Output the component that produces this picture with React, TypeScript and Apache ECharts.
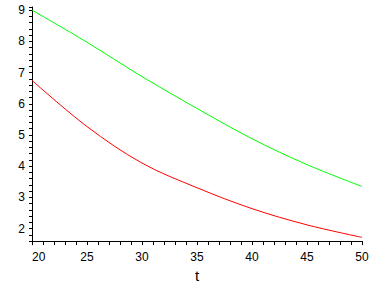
import React, { useEffect, useRef } from "react";
import * as echarts from "echarts";

const tValues = [20, 25, 30, 35, 40, 45, 50];
const greenValues = [9.0, 7.97, 6.87, 5.85, 4.88, 4.05, 3.35];
const redValues = [6.75, 5.27, 4.1, 3.31, 2.64, 2.12, 1.72];
const xTickLabels = ["20", "25", "30", "35", "40", "45", "50"];
const yTickLabels = ["2", "3", "4", "5", "6", "7", "8", "9"];

const FONT = "Liberation Sans";

function fmt(list: string[]) {
  return (v: number) => {
    const r = Math.round(v);
    if (Math.abs(v - r) > 1e-6) return "";
    const s = String(r);
    return list.includes(s) ? s : "";
  };
}

export default function App() {
  const ref = useRef<HTMLDivElement>(null);
  useEffect(() => {
    if (!ref.current) return;
    const chart = echarts.init(ref.current, undefined, { renderer: "svg" });
    chart.setOption({
      animation: false,
      backgroundColor: "#ffffff",
      grid: { left: 32, right: 26, top: 7, bottom: 37, containLabel: false },
      xAxis: {
        type: "value",
        min: 20,
        max: 50,
        interval: 1,
        name: "t",
        nameLocation: "middle",
        nameGap: 18,
        nameTextStyle: { color: "#000", fontFamily: FONT, fontSize: 15 },
        axisLine: { show: true, onZero: false, lineStyle: { color: "#000", width: 1 } },
        axisTick: { show: true, length: 4, inside: false, lineStyle: { color: "#000" } },
        splitLine: { show: false },
        axisLabel: {
          color: "#000",
          fontFamily: FONT,
          fontSize: 12,
          margin: 10,
          formatter: fmt(xTickLabels),
          alignMinLabel: "left",
        },
      },
      yAxis: {
        type: "value",
        min: 1.6,
        max: 9.1,
        interval: 0.2,
        axisLine: { show: true, onZero: false, lineStyle: { color: "#000", width: 1 } },
        axisTick: { show: true, length: 3, inside: false, lineStyle: { color: "#000" } },
        splitLine: { show: false },
        axisLabel: {
          color: "#000",
          fontFamily: FONT,
          fontSize: 12,
          margin: 7,
          formatter: fmt(yTickLabels),
        },
      },
      series: [
        {
          type: "line",
          data: tValues.map((t, i) => [t, greenValues[i]]),
          smooth: 0.35,
          showSymbol: false,
          lineStyle: { color: "#00ff00", width: 1 },
          itemStyle: { color: "#00ff00" },
        },
        {
          type: "line",
          data: tValues.map((t, i) => [t, redValues[i]]),
          smooth: 0.35,
          showSymbol: false,
          lineStyle: { color: "#ff0000", width: 1 },
          itemStyle: { color: "#ff0000" },
        },
      ],
    });
    return () => chart.dispose();
  }, []);
  return (
    <div
      ref={ref}
      style={{ position: "fixed", left: 0, top: 0, width: 388, height: 288, background: "#fff" }}
    />
  );
}
